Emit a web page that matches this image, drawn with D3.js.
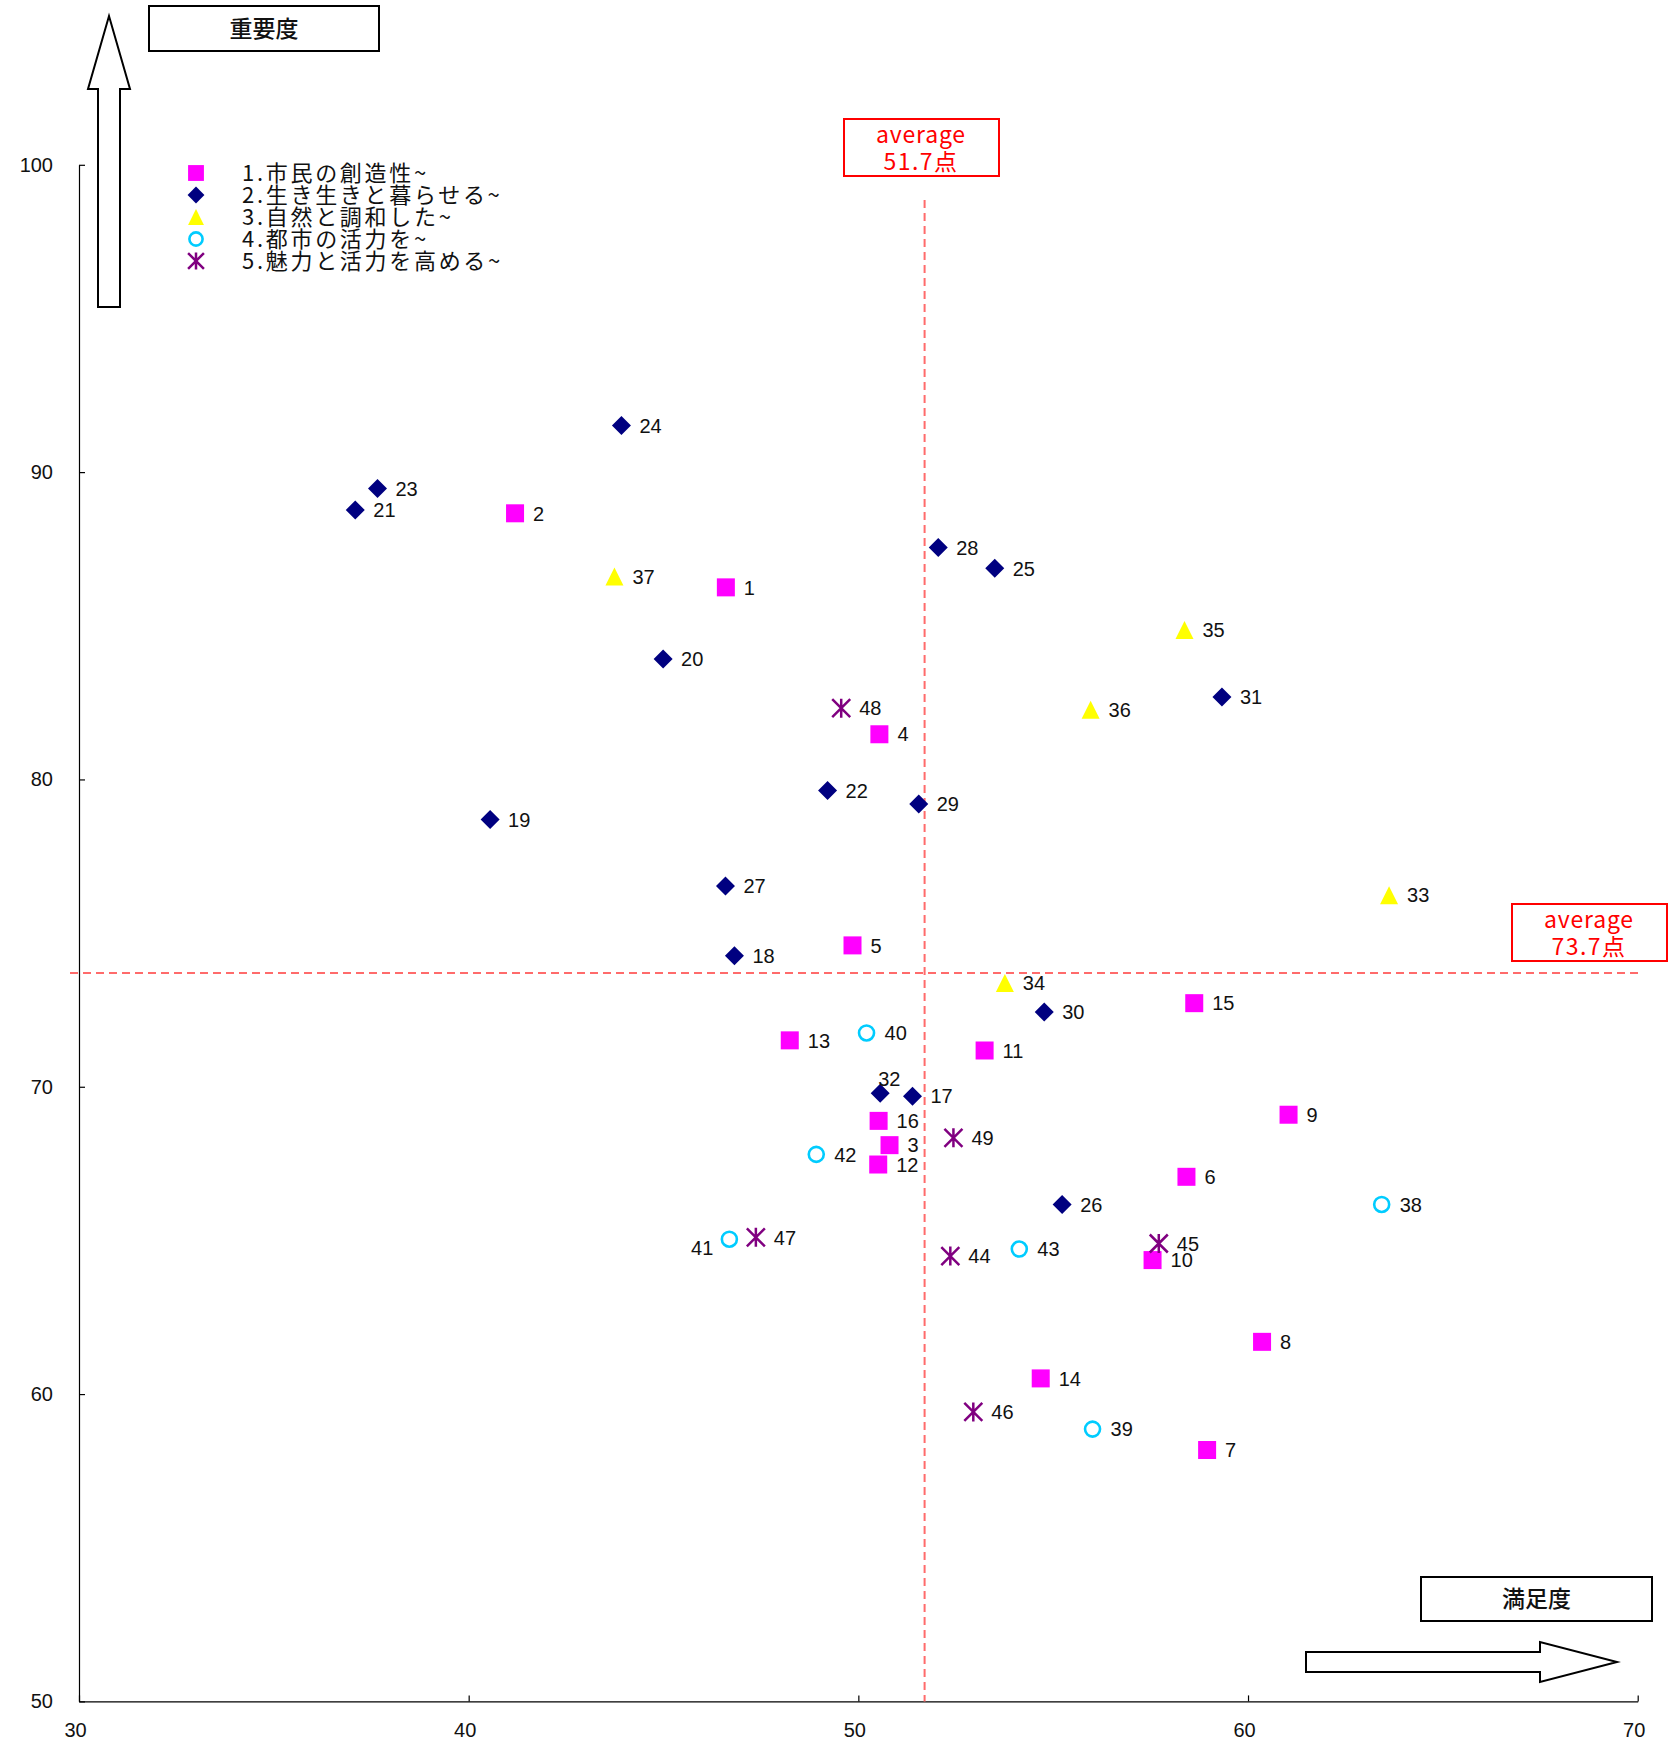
<!DOCTYPE html>
<html>
<head>
<meta charset="utf-8">
<script src="https://cdn.jsdelivr.net/npm/d3@7"></script>
<style>
  body { margin: 0; background: #fff; }
  svg { display: block; }
  .tick text { font-family: "Liberation Sans", Arial, sans-serif; font-size: 20px; fill: #111; }
  .lbl { font-family: "Liberation Sans", Arial, sans-serif; font-size: 20px; fill: #111; }
  .jp { font-family: "Noto Sans CJK JP", sans-serif; }
</style>
</head>
<body>
<div id="canvas"></div>
<script>
// series names (legend)
const seriesNames = [
  "1.市民の創造性~",
  "2.生き生きと暮らせる~",
  "3.自然と調和した~",
  "4.都市の活力を~",
  "5.魅力と活力を高める~"
];

// [item no, 満足度, 重要度]
const series1 = [
  [1, 46.60, 86.25], [2, 41.19, 88.66], [3, 50.80, 68.10], [4, 50.54, 81.47],
  [5, 49.85, 74.60], [6, 58.42, 67.07], [7, 58.95, 58.18], [8, 60.36, 61.70],
  [9, 61.04, 69.09], [10, 57.55, 64.36], [11, 53.24, 71.18], [12, 50.51, 67.47],
  [13, 48.24, 71.51], [14, 54.68, 60.51], [15, 58.62, 72.72], [16, 50.52, 68.89]
];
const series2 = [
  [17, 51.39, 69.69], [18, 46.82, 74.26], [19, 40.55, 78.70], [20, 44.99, 83.92],
  [21, 37.09, 88.77], [22, 49.21, 79.64], [23, 37.66, 89.47], [24, 43.92, 91.52],
  [25, 53.50, 86.87], [26, 55.23, 66.17], [27, 46.59, 76.53], [28, 52.05, 87.55],
  [29, 51.55, 79.20], [30, 54.77, 72.43], [31, 59.33, 82.68], [32, 50.56, 69.79]
];
const series3 = [
  [33, 63.62, 76.23], [34, 53.76, 73.38], [35, 58.37, 84.86], [36, 55.96, 82.27],
  [37, 43.74, 86.60]
];
const series4 = [
  [38, 63.43, 66.17], [39, 56.01, 58.86], [40, 50.21, 71.75], [41, 46.69, 65.04],
  [42, 48.92, 67.80], [43, 54.13, 64.72]
];
const series5 = [
  [44, 52.36, 64.49], [45, 57.71, 64.90], [46, 52.95, 59.42], [47, 47.37, 65.10],
  [48, 49.56, 82.32], [49, 52.44, 68.34]
];

const xTicks = [30, 40, 50, 60, 70];
const yTicks = [50, 60, 70, 80, 90, 100];
const avgX = 51.7;
const avgY = 73.7;

const W = 1678, H = 1746;

const allSeries = [series1, series2, series3, series4, series5];
const shapes = ["square", "diamond", "triangle", "circle", "asterisk"];
const colors = ["#ff00ff", "#000080", "#ffff00", "#00ccff", "#800080"];

// labels that are not placed to the right of the marker
const labelShift = { 32: [-2, -14, "start"], 41: [-16, 9, "end"] };

const svg = d3.select("#canvas").append("svg")
  .attr("width", W).attr("height", H)
  .attr("viewBox", [0, 0, W, H]);

const x = d3.scaleLinear().domain([30, 70]).range([79, 1637.7]);
const y = d3.scaleLinear().domain([50, 100]).range([1701.4, 164.8]);

// axes
const xAxis = d3.axisBottom(x).tickValues(xTicks).tickSizeInner(-6).tickSizeOuter(0).tickPadding(21);
const yAxis = d3.axisLeft(y).tickValues(yTicks).tickSizeInner(-6).tickSizeOuter(0).tickPadding(26);

const gX = svg.append("g").attr("transform", "translate(0," + y(50) + ")").call(xAxis);
gX.selectAll("text").attr("dx", "-0.2em");
const gY = svg.append("g").attr("transform", "translate(" + x(30) + ",0)").call(yAxis);
svg.selectAll(".domain, .tick line").attr("stroke", "#000").attr("stroke-width", 1.2);

// average lines
svg.append("line")
  .attr("x1", x(avgX)).attr("x2", x(avgX))
  .attr("y1", 200).attr("y2", y(50))
  .attr("stroke", "#ff6b6b").attr("stroke-width", 2).attr("stroke-dasharray", "8,5");
svg.append("line")
  .attr("x1", 70).attr("x2", 1641)
  .attr("y1", y(avgY)).attr("y2", y(avgY))
  .attr("stroke", "#ff6b6b").attr("stroke-width", 2).attr("stroke-dasharray", "8,5");

function avgBox(bx, by, val) {
  const g = svg.append("g");
  g.append("rect").attr("x", bx).attr("y", by).attr("width", 155).attr("height", 57)
    .attr("fill", "#fff").attr("stroke", "#ff0000").attr("stroke-width", 2);
  g.append("text").attr("class", "jp").attr("x", bx + 77).attr("y", by + 24)
    .attr("text-anchor", "middle").attr("font-size", 23).attr("fill", "#ff0000")
    .attr("letter-spacing", 0.8).text("average");
  g.append("text").attr("class", "jp").attr("x", bx + 77).attr("y", by + 51)
    .attr("text-anchor", "middle").attr("font-size", 23).attr("fill", "#ff0000")
    .attr("letter-spacing", 1.5).text(val.toFixed(1) + "点");
}
avgBox(844, 119, avgX);
avgBox(1512, 904, avgY);

// axis title boxes and arrows
function titleBox(bx, by, bw, bh, txt) {
  svg.append("rect").attr("x", bx).attr("y", by).attr("width", bw).attr("height", bh)
    .attr("fill", "#fff").attr("stroke", "#000").attr("stroke-width", 2);
  svg.append("text").attr("class", "jp").attr("x", bx + bw / 2).attr("y", by + bh / 2)
    .attr("dy", "0.36em").attr("text-anchor", "middle").attr("font-size", 23)
    .attr("font-weight", 500).attr("fill", "#111").text(txt);
}
titleBox(149, 6, 230, 45, "重要度");
titleBox(1421, 1577, 231, 44, "満足度");

svg.append("path")
  .attr("d", "M98,307 L98,89 L88,89 L109,16 L130,89 L120,89 L120,307 Z")
  .attr("fill", "#fff").attr("stroke", "#000").attr("stroke-width", 2);
svg.append("path")
  .attr("d", "M1306,1652 L1540,1652 L1540,1642 L1617,1662 L1540,1682 L1540,1672 L1306,1672 Z")
  .attr("fill", "#fff").attr("stroke", "#000").attr("stroke-width", 2);

// marker drawing
function marker(g, shape, color, s) {
  const h = 9 * s;
  if (shape === "square") {
    g.append("rect").attr("x", -h).attr("y", -h).attr("width", 2 * h).attr("height", 2 * h)
      .attr("fill", color);
  } else if (shape === "diamond") {
    g.append("path").attr("d", `M0,${-h - 0.5}L${h + 0.5},0L0,${h + 0.5}L${-h - 0.5},0Z`).attr("fill", color);
  } else if (shape === "triangle") {
    g.append("path").attr("d", `M0,${-h}L${h},${h}L${-h},${h}Z`).attr("fill", color);
  } else if (shape === "circle") {
    g.append("circle").attr("r", 7.5 * s).attr("fill", "#fff")
      .attr("stroke", color).attr("stroke-width", 2.6);
  } else {
    const p = d3.path();
    p.moveTo(-h, -h); p.lineTo(h, h);
    p.moveTo(-h, h); p.lineTo(h, -h);
    p.moveTo(0, -h - 0.5); p.lineTo(0, h + 0.5);
    g.append("path").attr("d", p.toString()).attr("stroke", color)
      .attr("stroke-width", 2.5).attr("fill", "none");
  }
}

// points
const pts = svg.append("g");
allSeries.forEach((ser, i) => {
  pts.selectAll(null).data(ser).enter().append("g")
    .attr("transform", d => `translate(${x(d[1])},${y(d[2])})`)
    .each(function () { marker(d3.select(this), shapes[i], colors[i], 1); });
});

// point labels
const labels = svg.append("g");
allSeries.forEach(ser => {
  labels.selectAll(null).data(ser).enter().append("text")
    .attr("class", "lbl")
    .attr("x", d => x(d[1]) + (labelShift[d[0]] ? labelShift[d[0]][0] : 18))
    .attr("y", d => y(d[2]) + (labelShift[d[0]] ? labelShift[d[0]][1] : 0))
    .attr("dy", "0.36em")
    .attr("text-anchor", d => labelShift[d[0]] ? labelShift[d[0]][2] : "start")
    .text(d => d[0]);
});

// legend
const legend = svg.append("g");
seriesNames.forEach((name, i) => {
  const ly = 173 + i * 22;
  const g = legend.append("g").attr("transform", `translate(196,${ly})`);
  marker(g, shapes[i], colors[i], 0.88);
  legend.append("text").attr("class", "jp")
    .attr("x", 242).attr("y", ly).attr("dy", "0.36em")
    .attr("font-size", 22).attr("letter-spacing", 2.7).attr("fill", "#111")
    .text(name);
});
</script>
</body>
</html>
